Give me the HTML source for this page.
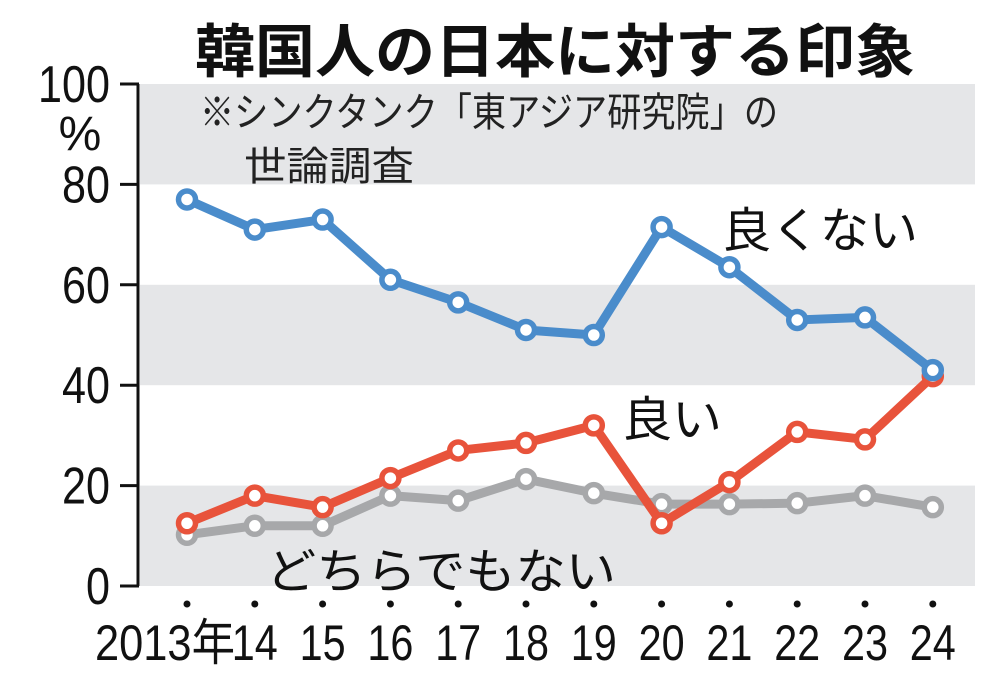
<!DOCTYPE html>
<html><head><meta charset="utf-8">
<style>
body{margin:0;background:#fff;}
svg text{font-family:"Liberation Sans","Noto Sans CJK JP",sans-serif;}
</style></head>
<body>
<svg id="chart" width="1000" height="683" viewBox="0 0 1000 683">
<g id="bands"></g>
<g id="axis"></g>
<text x="555" y="72" text-anchor="middle" font-size="58" font-weight="bold" fill="#111" textLength="720" lengthAdjust="spacingAndGlyphs">韓国人の日本に対する印象</text>
<text x="200" y="126" font-size="40" fill="#222" textLength="578" lengthAdjust="spacingAndGlyphs">※シンクタンク「東アジア研究院」の</text>
<text x="244" y="180" font-size="40" fill="#222" textLength="170" lengthAdjust="spacingAndGlyphs">世論調査</text>
<g id="series"></g>
<text x="722" y="247" font-size="48" fill="#111" textLength="196" lengthAdjust="spacingAndGlyphs">良くない</text>
<text x="622" y="436" font-size="48" fill="#111" textLength="100" lengthAdjust="spacingAndGlyphs">良い</text>
<text x="266" y="588" font-size="48" fill="#111" textLength="350" lengthAdjust="spacingAndGlyphs">どちらでもない</text>
</svg>
<script>
const years = ["2013年","14","15","16","17","18","19","20","21","22","23","24"];
const badValues = [77,71,73,61,56.5,51,50,71.5,63.5,53,53.5,43];
const goodValues = [12.5,18,15.7,21.5,27,28.5,32,12.5,20.7,30.7,29.2,41.8];
const neitherValues = [10.2,12,12,18,17,21.3,18.5,16.3,16.3,16.5,18,15.7];
const yTicks = [0,20,40,60,80,100];

const NS="http://www.w3.org/2000/svg";
function yS(v){return 586 - v*5.02;}
function xS(i){return 187 + i*67.8;}
function mk(tag,attrs,parent){const e=document.createElementNS(NS,tag);for(const k in attrs)e.setAttribute(k,attrs[k]);parent.appendChild(e);return e;}

const bands=document.getElementById('bands');
for(let i=0;i<yTicks.length-1;i+=2){
  const r=mk('rect',{x:140,y:yS(yTicks[i+1]),width:835,height:yS(yTicks[i])-yS(yTicks[i+1]),fill:'#e5e6e8'},bands);
  
  
}
const axis=document.getElementById('axis');
const al=mk('line',{x1:138,x2:138,y1:yS(100),y2:yS(0),stroke:'#111','stroke-width':3},axis);


yTicks.forEach(v=>{
  const t=mk('line',{x1:120,x2:139,y1:yS(v),y2:yS(v),stroke:'#111','stroke-width':3},axis);
  
  
  const s=String(v);
  const tx=mk('text',{x:110,y:yS(v)+18,'text-anchor':'end','font-size':52,fill:'#111',textLength:s.length*24,lengthAdjust:'spacingAndGlyphs'},axis);
  tx.textContent=s;
  
  
});
const pct=mk('text',{x:80,y:yS(100)+66,'text-anchor':'middle','font-size':48,fill:'#111'},axis);
pct.textContent='%';


years.forEach((y,i)=>{
  const d=mk('circle',{cx:xS(i),cy:604,r:3.5,fill:'#111'},axis);
  
  
  let t;
  if(i===0){
    t=mk('text',{x:95,y:660,'font-size':50,fill:'#111',textLength:140,lengthAdjust:'spacingAndGlyphs'},axis);
  } else {
    t=mk('text',{x:xS(i)-23,y:660,'font-size':50,fill:'#111',textLength:46,lengthAdjust:'spacingAndGlyphs'},axis);
  }
  t.textContent=y;
  
  
});

const series=document.getElementById('series');
function drawSeries(vals,color,name){
  const pts=vals.map((v,i)=>xS(i)+','+yS(v)).join(' ');
  const pl=mk('polyline',{points:pts,fill:'none',stroke:color,'stroke-width':9,'stroke-linejoin':'round'},series);
  
  
  vals.forEach((v,i)=>{
    const c=mk('circle',{cx:xS(i),cy:yS(v),r:8.5,fill:'#fff',stroke:color,'stroke-width':5.5},series);
    
    
  });
}
drawSeries(neitherValues,'#a7a8aa','neither');
drawSeries(goodValues,'#e8533b','good');
drawSeries(badValues,'#4a8ccb','bad');
</script>
</body></html>
